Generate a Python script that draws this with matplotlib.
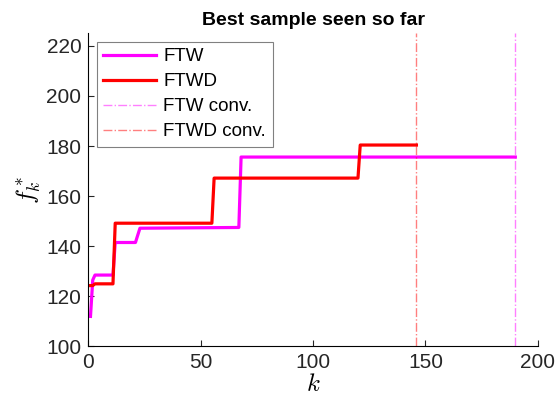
import matplotlib.pyplot as plt

plt.rcParams["font.family"] = ["Liberation Sans", "DejaVu Sans"]
plt.rcParams["mathtext.fontset"] = "cm"

# best value seen so far, breakpoints of the step curves
ftw_k = [1, 2, 3, 11, 12, 21, 23, 67, 68, 190]
ftw_best = [112, 126.5, 128.5, 128.5, 141.5, 141.5, 147.2, 147.5, 175.6, 175.6]
ftwd_k = [1, 2, 3, 11, 12, 55, 56, 120, 121, 146]
ftwd_best = [124.3, 124.3, 125, 125, 149.2, 149.2, 167.2, 167.2, 180.4, 180.4]

ftw_conv = 190
ftwd_conv = 146

fig = plt.figure(figsize=(5.55, 4.11), dpi=100)
ax = fig.add_axes([0.159, 0.157, 0.81, 0.762])

ax.plot(ftw_k, ftw_best, color="#ff00ff", lw=2.3, label="FTW")
ax.plot(ftwd_k, ftwd_best, color="#ff0000", lw=2.3, label="FTWD")
ax.axvline(ftw_conv, color="#ff00ff", lw=1, ls="-.", alpha=0.5, label="FTW conv.")
ax.axvline(ftwd_conv, color="#ff0000", lw=1, ls="-.", alpha=0.5, label="FTWD conv.")

ax.set_xlim(0, 200)
ax.set_ylim(100, 225)
ax.set_xticks([0, 50, 100, 150, 200])
ax.set_yticks([100, 120, 140, 160, 180, 200, 220])
ax.spines["top"].set_visible(False)
ax.spines["right"].set_visible(False)
ax.tick_params(direction="in", labelsize=15, colors="#262626", length=4, pad=5)
ax.set_xlabel("$k$", fontsize=18, labelpad=0)
ax.set_ylabel("$f^*_k$", fontsize=18, labelpad=2)
ax.set_title("Best sample seen so far", fontsize=14, fontweight="bold", pad=6)

leg = ax.legend(loc="upper left", fontsize=13.5, fancybox=False, framealpha=1,
                edgecolor="#808080", borderaxespad=0.45, handlelength=2.8,
                handletextpad=0.4, labelspacing=0.42, borderpad=0.35)
leg.get_frame().set_linewidth(0.8)

fig.savefig("out.png", dpi=100)
